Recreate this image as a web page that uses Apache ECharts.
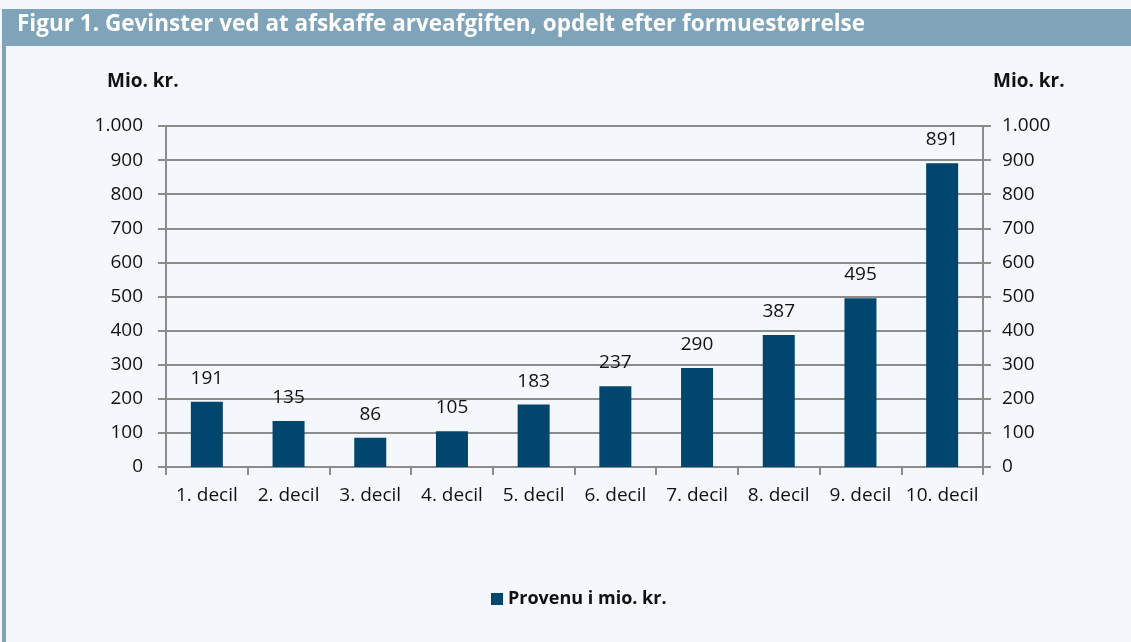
<!DOCTYPE html>
<html><head><meta charset="utf-8">
<script src="https://cdn.jsdelivr.net/npm/echarts@6/dist/echarts.min.js"></script>
<style>html,body{margin:0;padding:0;background:#f4f8fc;}#c{width:1131px;height:642px;}</style>
</head><body><div id="c"></div>
<script>
const titleText = 'Figur 1. Gevinster ved at afskaffe arveafgiften, opdelt efter formuestørrelse';
const categories = ['1. decil','2. decil','3. decil','4. decil','5. decil','6. decil','7. decil','8. decil','9. decil','10. decil'];
const values = [191,135,86,105,183,237,290,387,495,891];
const seriesName = 'Provenu i mio. kr.';
const axisUnit = 'Mio. kr.';

const font = '"Open Sans", "Noto Sans", sans-serif';
const chart = echarts.init(document.getElementById('c'), null, {renderer:'canvas'});
const axisCommon = {
  type:'value', min:0, max:1000, interval:100,
  axisLine:{show:true, lineStyle:{color:'#8c8c8c', width:2}},
  axisTick:{show:true, length:8, lineStyle:{color:'#8c8c8c', width:2}},
  splitLine:{show:true, lineStyle:{color:'#8c8c8c', width:2}},
  axisLabel:{color:'#111', fontSize:19, fontFamily:font,
    formatter:v=>v>=1000 ? (Math.floor(v/1000)+'.'+String(v%1000).padStart(3,'0')) : String(v)}
};
chart.setOption({
  backgroundColor:'#f4f8fc',
  animation:false,
  graphic:[
    {type:'rect', shape:{x:2,y:9,width:1129,height:37}, style:{fill:'#7fa3b8'}},
    {type:'rect', shape:{x:2,y:46,width:4,height:596}, style:{fill:'#7fa3b8'}},
    {type:'text', left:17, top:13, style:{text:titleText, fill:'#fff', font:'bold 22.5px '+font}},
    {type:'text', left:107, top:72, style:{text:axisUnit, fill:'#111', font:'bold 19px '+font}},
    {type:'text', left:993, top:72, style:{text:axisUnit, fill:'#111', font:'bold 19px '+font}}
  ],
  grid:{left:166, right:148, top:126, bottom:175},
  legend:{show:true, bottom:29, left:486, itemWidth:12, itemHeight:12, itemGap:5,
    icon:'rect', textStyle:{fontSize:18, fontWeight:'bold', color:'#111', fontFamily:font},
    data:[seriesName]},
  xAxis:{type:'category', data:categories,
    axisLine:{lineStyle:{color:'#8c8c8c', width:2}},
    axisTick:{show:true, length:8, lineStyle:{color:'#8c8c8c', width:2}},
    axisLabel:{color:'#111', fontSize:19, fontFamily:font, margin:19, interval:0}},
  yAxis:[
    Object.assign({position:'left'}, axisCommon, {axisLabel:Object.assign({}, axisCommon.axisLabel, {margin:23})}),
    Object.assign({position:'right'}, axisCommon, {splitLine:{show:false}, axisLabel:Object.assign({}, axisCommon.axisLabel, {margin:19})})
  ],
  series:[{
    name:seriesName, type:'bar', data:values, barWidth:32, yAxisIndex:0,
    itemStyle:{color:'#00466e'},
    label:{show:true, position:'top', distance:14, color:'#111', fontSize:19, fontFamily:font}
  }]
});
</script></body></html>
